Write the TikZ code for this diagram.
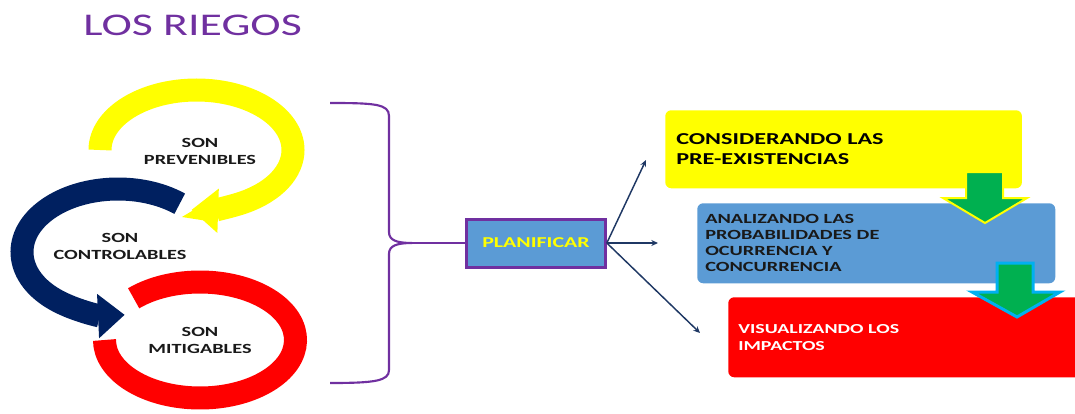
\documentclass[tikz,border=0pt]{standalone}
\usepackage{fontspec}
\setmainfont{Carlito}[FakeStretch=1.45]
\usetikzlibrary{arrows.meta}
\definecolor{ryellow}{HTML}{FFFF00}
\definecolor{rnavy}{HTML}{002060}
\definecolor{rred}{HTML}{FF0000}
\definecolor{rpurple}{HTML}{7030A0}
\definecolor{rblue}{HTML}{5B9BD5}
\definecolor{rgreen}{HTML}{00B050}
\definecolor{rcyan}{HTML}{00B0F0}
\definecolor{rdark}{HTML}{1F3864}
\begin{document}
\begin{tikzpicture}[x=0.75pt,y=-0.75pt,
  band/.style={line width=17.25pt},
  bigtip/.style={-{Triangle[width=32pt,length=20pt]}},
  ringlabel/.style={align=center,inner sep=0pt,font=\bfseries\fontsize{10.5}{12.75}\selectfont,text=black!90},
  stepbox/.style={anchor=north west,rounded corners=4.5pt,align=left,font=\bfseries},
  brace/.style={draw=rpurple,line width=1.6pt},
  conn/.style={draw=rdark,line width=1.1pt,-{Stealth[length=5pt,width=4.5pt]}},
  greenarrow/.style={fill=rgreen},
]
\useasboundingbox (0,0) rectangle (1075,414);

% title
\node[anchor=base west,inner sep=0pt,text=rpurple,font=\fontsize{23.7}{28}\selectfont] (title) at (83,35) {LOS RIEGOS};

% rings
\draw[band,rred] ({200+95.5*cos(226)},{340+58*sin(226)}) arc[start angle=226,end angle=540,x radius=95.5,y radius=58];
\draw[band,rnavy,bigtip] ({118+96*cos(310)},{252+63*sin(310)}) arc[start angle=310,end angle=86,x radius=96,y radius=63];
\draw[band,ryellow,bigtip] ({196.5+96.5*cos(180)},{150+60*sin(180)}) arc[start angle=180,end angle=453,x radius=96.5,y radius=60];

\node[ringlabel] (prev) at (200,151) {SON\\PREVENIBLES};
\node[ringlabel] (ctrl) at (120,246.5) {SON\\CONTROLABLES};
\node[ringlabel] (miti) at (200,340) {SON\\MITIGABLES};

% brace
\coordinate (btop) at (330,103);
\coordinate (bbot) at (330,383);
\coordinate (btip) at (412,243);
\draw[brace] (btop) .. controls (375,103) and (389,104) .. (389,116) -- (389,232) .. controls (389,240) and (396,243) .. (btip) .. controls (396,243) and (389,246) .. (389,254) -- (389,370) .. controls (389,381) and (375,383) .. (bbot);

\node[draw=rpurple,line width=2.25pt,fill=rblue,minimum width=104pt,minimum height=36pt,text=ryellow,font=\bfseries\fontsize{11.3}{13}\selectfont] (plan) at (536,243) {PLANIFICAR};
\draw[brace] (btip) -- (plan.west);

% boxes
\node[stepbox,fill=ryellow,inner xsep=8.25pt,text width=251pt,minimum height=58.5pt,font=\bfseries\fontsize{12.5}{15}\selectfont] (pre) at (665,110) {CONSIDERANDO LAS\\PRE-EXISTENCIAS};
\node[stepbox,fill=rblue,inner xsep=6pt,text width=256.5pt,minimum height=60pt,font=\bfseries\fontsize{10.5}{12}\selectfont,text=black!90] (ana) at (697,203) {ANALIZANDO LAS\\PROBABILIDADES DE\\OCURRENCIA Y\\CONCURRENCIA};
\node[stepbox,fill=rred,inner xsep=7.5pt,text width=252.75pt,minimum height=60pt,font=\bfseries\fontsize{10.3}{12.75}\selectfont,text=white] (vis) at (728,297) {VISUALIZANDO LOS\\IMPACTOS};

% green block arrows
\draw[greenarrow,draw=ryellow,line width=1.5pt] (966,172) -- (1003,172) -- (1003,198) -- (1027,198) -- (985,223) -- (943,198) -- (966,198) -- cycle;
\draw[greenarrow,draw=rcyan,line width=2.25pt] (997,263) -- (1033,263) -- (1033,292) -- (1060,292) -- (1017,317) -- (972,292) -- (997,292) -- cycle;

% connectors from PLANIFICAR
\coordinate (t1) at (646,160);
\coordinate (t2) at (658,243);
\coordinate (t3) at (700,333);
\draw[conn] (plan.east) -- (t1);
\draw[conn] (plan.east) -- (t2);
\draw[conn] (plan.east) -- (t3);
\end{tikzpicture}
\end{document}
